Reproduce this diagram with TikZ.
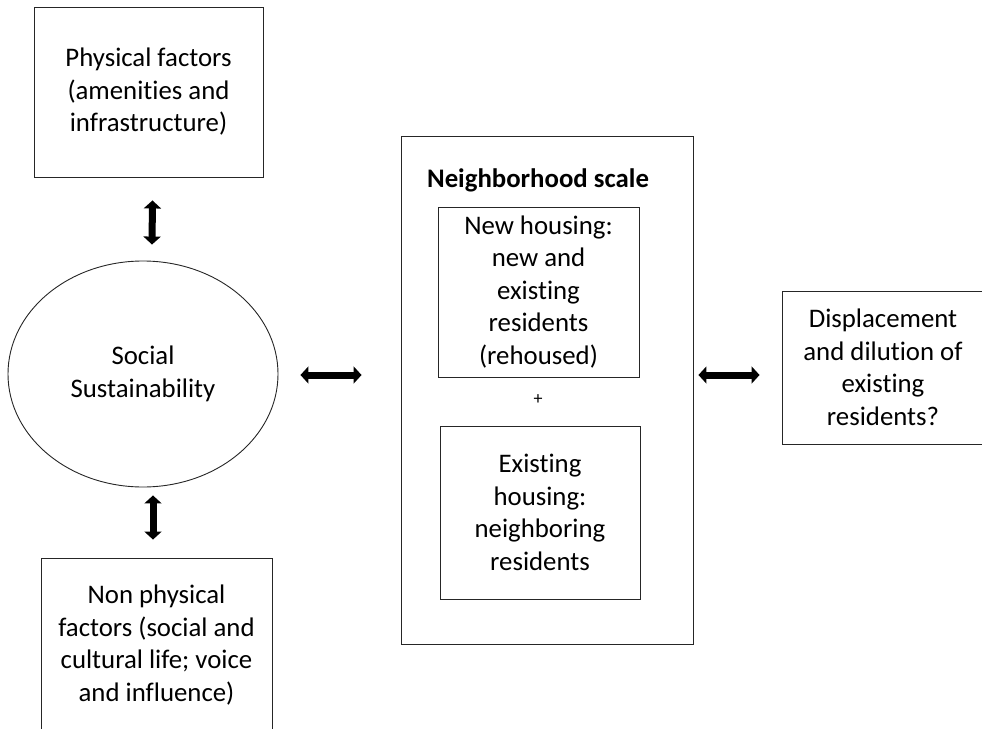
\documentclass[tikz,border=0pt]{standalone}
\usepackage{fontspec}
\setmainfont[Ligatures=NoCommon]{Carlito}
\usetikzlibrary{shapes.geometric,arrows.meta}

\begin{document}
\begin{tikzpicture}[x=1pt, y=-1pt,
	box/.style={draw=black!85, line width=0.9pt, align=center, inner sep=0pt},
	dblarrow/.style={line width=7pt, {Triangle[length=8pt,width=17pt]}-{Triangle[length=8pt,width=17pt]}}]
	\useasboundingbox (0, 0) rectangle (982, 728);
	\fontsize{26.8}{32.5}\selectfont
	\begin{scope}
	% left column
	\node[box, minimum width=229, minimum height=170] (phys) at (148.5, 92) {Physical factors\\(amenities and\\infrastructure)};
	\node[box, ellipse, minimum width=270, minimum height=226] (soc) at (143, 374) {Social\\Sustainability};
	\node[box, minimum width=231, minimum height=174] (nonphys) at (156.5, 645) {Non physical\\factors (social and\\cultural life; voice\\and influence)};
	\draw[dblarrow] ([xshift=4pt, yshift=-23pt]phys.south) -- ([xshift=9pt, yshift=16pt]soc.north);
	\draw[dblarrow] ([xshift=10pt, yshift=-8pt]soc.south) -- ([xshift=-3.5pt, yshift=18pt]nonphys.north);
	% neighborhood
	\node[box, minimum width=292, minimum height=508] (nbh) at (547, 390) {};
	\node (nbhlabel) at (538, 180) {\bfseries Neighborhood scale};
	\node[box, minimum width=201, minimum height=170] (newh) at (538.5, 292) {New housing:\\new and\\existing\\residents\\(rehoused)};
	\node (plus) at (538, 400) {\fontsize{18}{20}\selectfont +};
	\node[box, minimum width=200, minimum height=173] (exh) at (540, 512.5) {Existing\\housing:\\neighboring\\residents};
	\node[box, minimum width=202, minimum height=153] (disp) at (883, 367.5) {Displacement\\and dilution of\\existing\\residents?};
	\draw[dblarrow] ([xshift=22pt, yshift=-1pt]soc.east) -- ([xshift=-39pt, yshift=-1pt]soc.east -| nbh.west);
	\draw[dblarrow] ([xshift=5pt, yshift=-1pt]soc.east -| nbh.east) -- ([xshift=-22pt, yshift=-1pt]soc.east -| disp.west);
	\end{scope}
\end{tikzpicture}
\end{document}
